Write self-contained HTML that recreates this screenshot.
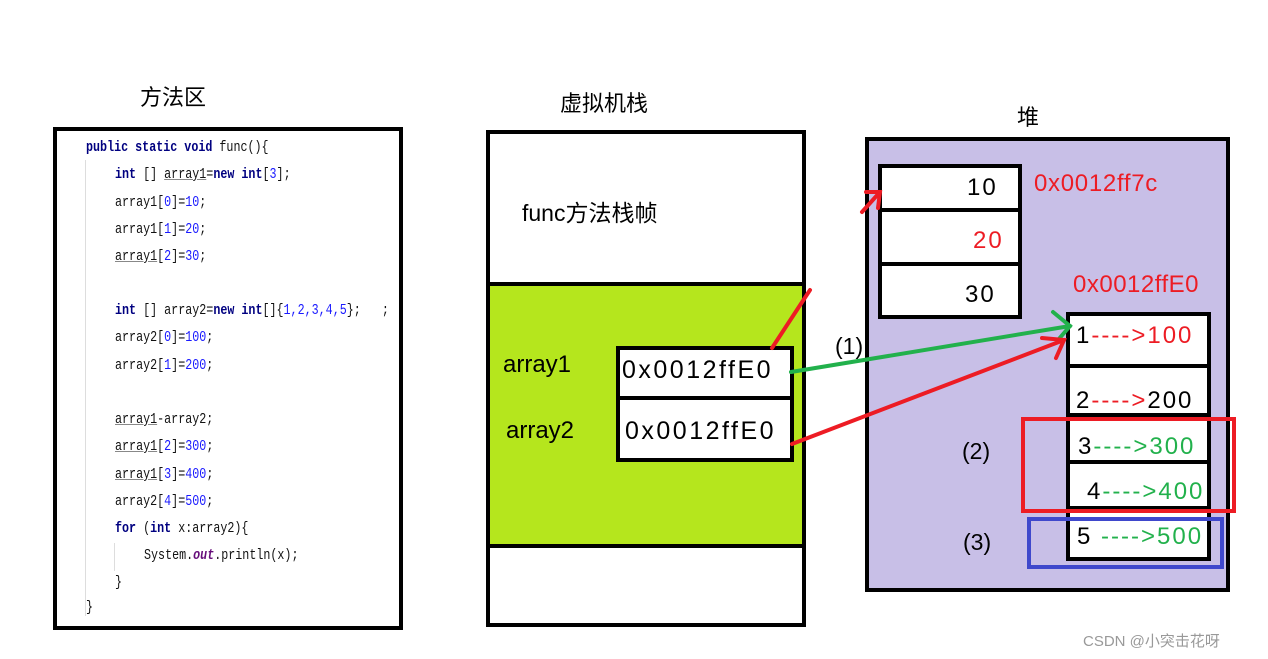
<!DOCTYPE html>
<html><head><meta charset="utf-8"><style>
body{margin:0;width:1268px;height:659px;background:#fff;position:relative;overflow:hidden;font-family:"Liberation Sans","Noto Sans CJK SC",sans-serif}
.a{position:absolute;box-sizing:border-box}
.t{position:absolute;white-space:nowrap}
.code{font-family:"Liberation Mono","Noto Sans CJK SC",monospace;font-size:15px;transform:scaleX(0.78);transform-origin:left;color:#111}
.kw{color:#000080;font-weight:bold}.n{color:#1a1aff}.u{text-decoration:underline;text-decoration-color:#888}
.h{font-size:24px;letter-spacing:2px}
</style></head><body>
<div class="t" style="left:140px;top:80px;font-size:22px">方法区</div>
<div class="t" style="left:560px;top:86px;font-size:22px">虚拟机栈</div>
<div class="t" style="left:1017px;top:100px;font-size:22px">堆</div>

<div class="a" style="left:53px;top:127px;width:350px;height:503px;border:4px solid #000"></div>
<div class="a" style="left:85px;top:160px;width:1px;height:456px;background:#ddd"></div>
<div class="a" style="left:114px;top:543px;width:1px;height:28px;background:#ddd"></div>
<div class="t code" style="left:86px;top:139px"><span class="kw">public static void</span> func(){</div>
<div class="t code" style="left:115px;top:166px"><span class="kw">int</span> [] <span class="u">array1</span>=<span class="kw">new int</span>[<span class="n">3</span>];</div>
<div class="t code" style="left:115px;top:194px">array1[<span class="n">0</span>]=<span class="n">10</span>;</div>
<div class="t code" style="left:115px;top:221px">array1[<span class="n">1</span>]=<span class="n">20</span>;</div>
<div class="t code" style="left:115px;top:248px"><span class="u">array1</span>[<span class="n">2</span>]=<span class="n">30</span>;</div>
<div class="t code" style="left:115px;top:302px"><span class="kw">int</span> [] array2=<span class="kw">new int</span>[]{<span class="n">1,2,3,4,5</span>};&nbsp;&nbsp;&nbsp;;</div>
<div class="t code" style="left:115px;top:329px">array2[<span class="n">0</span>]=<span class="n">100</span>;</div>
<div class="t code" style="left:115px;top:357px">array2[<span class="n">1</span>]=<span class="n">200</span>;</div>
<div class="t code" style="left:115px;top:411px"><span class="u">array1</span>-array2;</div>
<div class="t code" style="left:115px;top:438px"><span class="u">array1</span>[<span class="n">2</span>]=<span class="n">300</span>;</div>
<div class="t code" style="left:115px;top:466px"><span class="u">array1</span>[<span class="n">3</span>]=<span class="n">400</span>;</div>
<div class="t code" style="left:115px;top:493px">array2[<span class="n">4</span>]=<span class="n">500</span>;</div>
<div class="t code" style="left:115px;top:520px"><span class="kw">for</span> (<span class="kw">int</span> x:array2){</div>
<div class="t code" style="left:144px;top:547px">System.<span style="color:#660e7a;font-weight:bold;font-style:italic">out</span>.println(x);</div>
<div class="t code" style="left:115px;top:574px">}</div>
<div class="t code" style="left:86px;top:599px">}</div>

<div class="a" style="left:486px;top:130px;width:320px;height:497px;border:4px solid #000"></div>
<div class="a" style="left:490px;top:282px;width:312px;height:4px;background:#000"></div>
<div class="a" style="left:490px;top:286px;width:312px;height:258px;background:#b5e61d"></div>
<div class="a" style="left:490px;top:544px;width:312px;height:4px;background:#000"></div>
<div class="t" style="left:522px;top:194px;font-size:23px">func方法栈帧</div>
<div class="t" style="left:503px;top:351px;font-size:24px">array1</div>
<div class="t" style="left:506px;top:417px;font-size:24px">array2</div>
<div class="a" style="left:616px;top:346px;width:178px;height:116px;border:4px solid #000;background:#fff"></div>
<div class="a" style="left:616px;top:396px;width:178px;height:4px;background:#000"></div>
<div class="t" style="left:622px;top:356px;font-size:25px;letter-spacing:2.5px">0x0012ffE0</div>
<div class="t" style="left:625px;top:417px;font-size:25px;letter-spacing:2.5px">0x0012ffE0</div>

<div class="a" style="left:865px;top:137px;width:365px;height:455px;border:4px solid #000;background:#c8bfe7"></div>
<div class="a" style="left:878px;top:164px;width:144px;height:155px;border:4px solid #000;background:#fff"></div>
<div class="a" style="left:878px;top:208px;width:144px;height:4px;background:#000"></div>
<div class="a" style="left:878px;top:262px;width:144px;height:4px;background:#000"></div>
<div class="t h" style="left:967px;top:174px">10</div>
<div class="t h" style="left:973px;top:227px;color:#ed1c24">20</div>
<div class="t h" style="left:965px;top:281px">30</div>
<div class="t" style="left:1034px;top:170px;font-size:24px;letter-spacing:0.7px;color:#ed1c24">0x0012ff7c</div>
<div class="t" style="left:1073px;top:271px;font-size:24px;letter-spacing:0.5px;color:#ed1c24">0x0012ffE0</div>

<div class="a" style="left:1066px;top:312px;width:145px;height:249px;border:4px solid #000;background:#fff"></div>
<div class="a" style="left:1066px;top:364px;width:145px;height:4px;background:#000"></div>
<div class="a" style="left:1066px;top:413px;width:145px;height:4px;background:#000"></div>
<div class="a" style="left:1066px;top:460px;width:145px;height:4px;background:#000"></div>
<div class="a" style="left:1066px;top:506px;width:145px;height:4px;background:#000"></div>
<div class="t h" style="left:1076px;top:322px">1<span style="color:#ed1c24">---->100</span></div>
<div class="t h" style="left:1076px;top:387px">2<span style="color:#ed1c24">----></span>200</div>
<div class="t h" style="left:1078px;top:433px">3<span style="color:#22b14c">---->300</span></div>
<div class="t h" style="left:1087px;top:478px">4<span style="color:#22b14c">---->400</span></div>
<div class="t h" style="left:1077px;top:523px">5 <span style="color:#22b14c">---->500</span></div>
<div class="a" style="left:1021px;top:417px;width:215px;height:96px;border:4px solid #ed1c24"></div>
<div class="a" style="left:1027px;top:517px;width:197px;height:52px;border:4px solid #3f48cc"></div>
<div class="t" style="left:962px;top:438px;font-size:23px">(2)</div>
<div class="t" style="left:963px;top:529px;font-size:23px">(3)</div>
<div class="t" style="left:835px;top:333px;font-size:23px">(1)</div>

<svg class="a" style="left:0;top:0" width="1268" height="659">
<g stroke-width="4" fill="none" stroke-linecap="round">
<path d="M772,348 L810,290" stroke="#ed1c24"/>
<path d="M862,212 L880,192 M866,192 L880,192 L878,208" stroke="#ed1c24"/>
<path d="M791,372 L1070,326" stroke="#22b14c"/>
<path d="M1053,312 L1070,326 L1058,340" stroke="#22b14c"/>
<path d="M792,444 L1064,340" stroke="#ed1c24"/>
<path d="M1042,338 L1064,340 L1056,358" stroke="#ed1c24"/>
</g></svg>
<div class="t" style="left:1083px;top:630px;font-size:15px;color:#999">CSDN @小突击花呀</div>
</body></html>
